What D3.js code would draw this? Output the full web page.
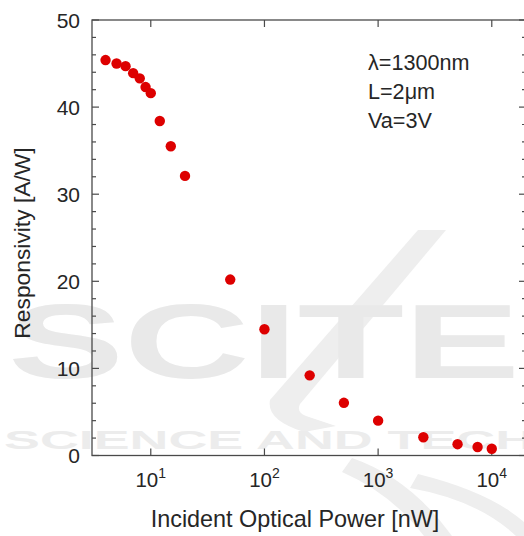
<!DOCTYPE html>
<html>
<head>
<meta charset="utf-8">
<script src="https://cdn.jsdelivr.net/npm/d3@7"></script>
<style>
  html, body { margin: 0; padding: 0; background: #fff; }
  svg { display: block; }
  text { font-family: "Liberation Sans", Arial, sans-serif; fill: #262626; }
</style>
</head>
<body>
<svg id="chart" width="524" height="536"></svg>
<script>
// Incident optical power (nW) and measured responsivity (A/W)
const power = [4, 5, 6, 7, 8, 9, 10, 12, 15, 20, 50, 100, 250, 500, 1000, 2500, 5000, 7500, 10000];
const responsivity = [45.4, 45.0, 44.7, 43.9, 43.3, 42.3, 41.6, 38.4, 35.5, 32.1, 20.2, 14.5, 9.2, 6.05, 4.0, 2.1, 1.3, 0.97, 0.78];

const xTickExponents = [1, 2, 3, 4];
const yMajorTicks = [0, 10, 20, 30, 40, 50];
const yMinorTicks = d3.range(0, 51, 2);
const conditions = ["λ=1300nm", "L=2μm", "Va=3V"];

const svg = d3.select("#chart");
const plotLeft = 92, plotRight = 526, plotTop = 20, plotBottom = 455.5;

const x = d3.scaleLog().domain([3.04, 20000]).range([plotLeft, plotRight]);
const y = d3.scaleLinear().domain([0, 50]).range([plotBottom, plotTop]);

// faint publisher watermark behind the plot
const wm = svg.append("g");
wm.append("path")
  .attr("d", "M418,230 L446,230 L300,404 Q296,412 306,416 L336,426 L304,432 Q266,420 270,400 Z")
  .attr("fill", "#eeeeee");
wm.append("path")
  .attr("d", "M352,458 Q410,478 452,536 L424,536 Q392,494 342,472 Z")
  .attr("fill", "#eeeeee");
wm.append("path")
  .attr("d", "M418,474 Q490,492 524,522 L524,536 L516,536 Q478,500 410,488 Z")
  .attr("fill", "#eeeeee");
wm.append("text")
  .attr("x", 8).attr("y", 378)
  .attr("textLength", 512).attr("lengthAdjust", "spacingAndGlyphs")
  .style("font-size", "106px").style("font-weight", "bold").style("fill", "#e9e9e9")
  .text("SCITE");
wm.append("text")
  .attr("x", 4).attr("y", 449)
  .attr("textLength", 530).attr("lengthAdjust", "spacingAndGlyphs")
  .style("font-size", "26px").style("font-weight", "bold").style("fill", "#ececec")
  .text("SCIENCE AND TECH");

// plot frame
const axisColor = "#4a4a4a";
svg.append("rect")
  .attr("x", plotLeft).attr("y", plotTop)
  .attr("width", plotRight - plotLeft).attr("height", plotBottom - plotTop)
  .attr("fill", "none").attr("stroke", axisColor).attr("stroke-width", 1.3);

// y ticks (left and right, pointing inward)
const ticks = svg.append("g").attr("stroke", axisColor).attr("stroke-width", 1.2);
yMinorTicks.forEach(v => {
  const len = v % 10 === 0 ? 7 : 4;
  ticks.append("line").attr("x1", plotLeft).attr("x2", plotLeft + len).attr("y1", y(v)).attr("y2", y(v));
  ticks.append("line").attr("x1", plotRight).attr("x2", plotRight - len).attr("y1", y(v)).attr("y2", y(v));
});
// x ticks at decades (bottom and top)
xTickExponents.forEach(e => {
  const px = x(Math.pow(10, e));
  ticks.append("line").attr("x1", px).attr("x2", px).attr("y1", plotBottom).attr("y2", plotBottom - 7);
  ticks.append("line").attr("x1", px).attr("x2", px).attr("y1", plotTop).attr("y2", plotTop + 7);
});

// y tick labels
svg.append("g").selectAll("text").data(yMajorTicks).join("text")
  .attr("x", 80).attr("y", d => y(d))
  .attr("dy", "0.36em")
  .attr("text-anchor", "end")
  .style("font-size", "21px")
  .text(d => d);

// x tick labels 10^n
const xl = svg.append("g").selectAll("text").data(xTickExponents).join("text")
  .attr("x", d => x(Math.pow(10, d)))
  .attr("y", 487)
  .attr("text-anchor", "middle")
  .style("font-size", "20.5px");
xl.append("tspan").text("10");
xl.append("tspan").attr("dy", "-9").style("font-size", "14px").text(d => d);

// axis titles
svg.append("text")
  .attr("x", 295).attr("y", 527)
  .attr("text-anchor", "middle")
  .style("font-size", "23.4px")
  .text("Incident Optical Power [nW]");
svg.append("text")
  .attr("transform", "translate(30,243) rotate(-90)")
  .attr("text-anchor", "middle")
  .style("font-size", "22.8px")
  .text("Responsivity [A/W]");

// measurement conditions
svg.append("g").selectAll("text").data(conditions).join("text")
  .attr("x", 368).attr("y", (d, i) => 70 + i * 29)
  .style("font-size", "21.6px")
  .text(d => d);

// data points
svg.append("g").selectAll("circle").data(power).join("circle")
  .attr("cx", d => x(d))
  .attr("cy", (d, i) => y(responsivity[i]))
  .attr("r", 5.2)
  .attr("fill", "#dd0000");
</script>
</body>
</html>
